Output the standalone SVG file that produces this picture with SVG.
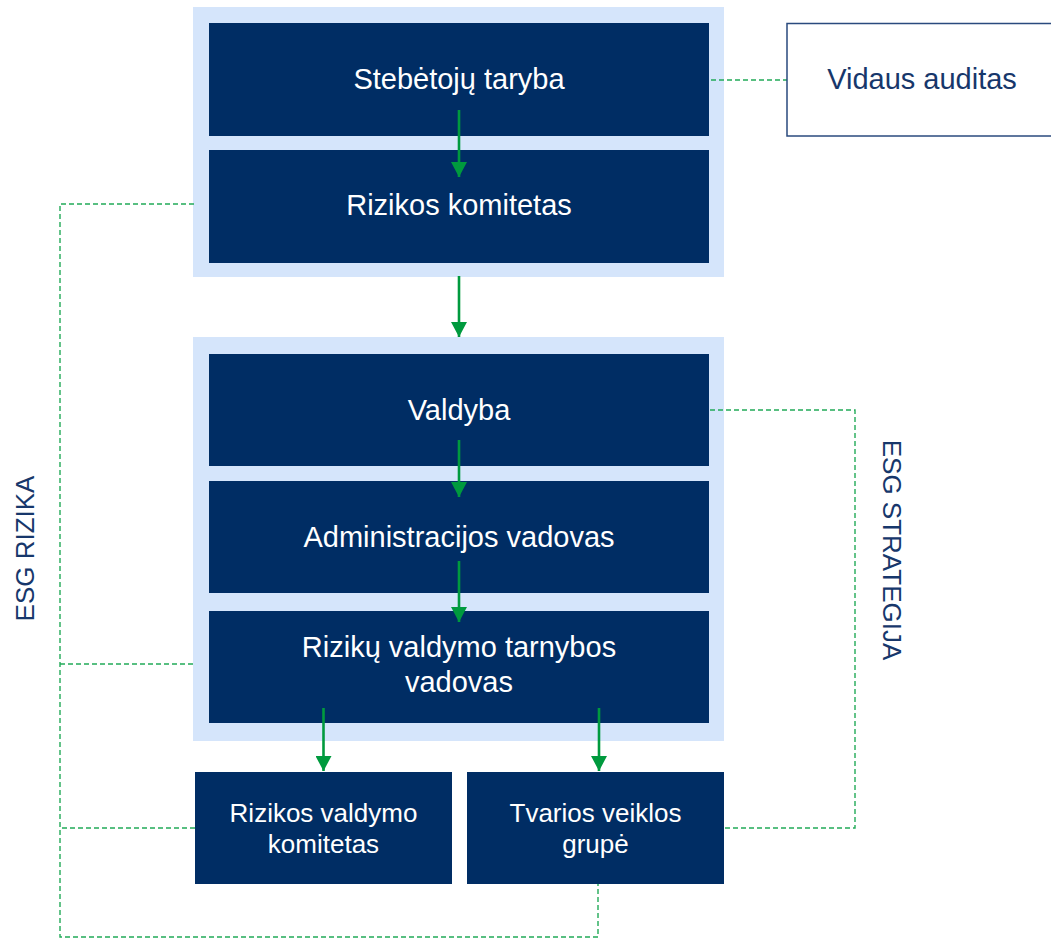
<svg xmlns="http://www.w3.org/2000/svg" width="1051" height="939" viewBox="0 0 1051 939">
<style>
.cont{fill:#D5E5FB}
.box{fill:#002D64}
.wt{font-family:"Liberation Sans",Arial,sans-serif;fill:#FFFFFF;text-anchor:middle}
.bt{font-family:"Liberation Sans",Arial,sans-serif;fill:#17376B;text-anchor:middle}
.f29{font-size:29px}
.f26{font-size:26px}
.dash{fill:none;stroke:#22AA58;stroke-width:1.4;stroke-dasharray:5 3}
.arr{fill:none;stroke:#009A3E;stroke-width:2.6}
</style>
<defs>
<marker id="ah" viewBox="0 0 15 16" refX="15" refY="8" markerWidth="15" markerHeight="16" markerUnits="userSpaceOnUse" orient="auto">
<path d="M0,0 L15,8 L0,16 z" fill="#009A3E"/>
</marker>
</defs>
<rect width="1051" height="939" fill="#FFFFFF"/>
<g id="group-top">
<rect class="cont" x="193" y="7" width="531" height="270"/>
</g>
<g id="group-mgmt">
<rect class="cont" x="193" y="337" width="531" height="404"/>
</g>
<g id="connectors">
<polyline class="dash" points="711,80 787,80"/>
<polyline class="dash" points="194,204 60,204 60,937 598,937 598,884"/>
<polyline class="dash" points="193,664 60,664"/>
<polyline class="dash" points="195,828 60,828"/>
<polyline class="dash" points="710,410 855,410 855,828 724,828"/>
</g>
<g id="stebetoju-taryba">
<rect class="box" x="209" y="23" width="500" height="113"/>
<text class="wt f29" x="459" y="89">Stebėtojų taryba</text>
</g>
<g id="rizikos-komitetas">
<rect class="box" x="209" y="150" width="500" height="113"/>
<text class="wt f29" x="459" y="215">Rizikos komitetas</text>
</g>
<g id="vidaus-auditas">
<rect x="787" y="23.5" width="280" height="112.5" fill="#FFFFFF" stroke="#2A4A7E" stroke-width="1.5"/>
<text class="bt f29" x="922" y="89">Vidaus auditas</text>
</g>
<g id="valdyba">
<rect class="box" x="209" y="354" width="500" height="112"/>
<text class="wt f29" x="459" y="420">Valdyba</text>
</g>
<g id="administracijos-vadovas">
<rect class="box" x="209" y="481" width="500" height="112"/>
<text class="wt f29" x="459" y="547">Administracijos vadovas</text>
</g>
<g id="riziku-valdymo-tarnybos-vadovas">
<rect class="box" x="209" y="611" width="500" height="112"/>
<text class="wt f29" x="459" y="657">Rizikų valdymo tarnybos</text>
<text class="wt f29" x="459" y="692">vadovas</text>
</g>
<g id="rizikos-valdymo-komitetas">
<rect class="box" x="195" y="772" width="257" height="112"/>
<text class="wt f26" x="323.5" y="822">Rizikos valdymo</text>
<text class="wt f26" x="323.5" y="853">komitetas</text>
</g>
<g id="tvarios-veiklos-grupe">
<rect class="box" x="467" y="772" width="257" height="112"/>
<text class="wt f26" x="595.5" y="822">Tvarios veiklos</text>
<text class="wt f26" x="595.5" y="853">grupė</text>
</g>
<g id="label-esg-rizika">
<text class="bt f26" transform="translate(34,548.5) rotate(-90)" x="0" y="0">ESG RIZIKA</text>
</g>
<g id="label-esg-strategija">
<text class="bt f26" transform="translate(883,550) rotate(90)" x="0" y="0">ESG STRATEGIJA</text>
</g>
<g id="arrows">
<line class="arr" x1="459" y1="110" x2="459" y2="177" marker-end="url(#ah)"/>
<line class="arr" x1="459" y1="276" x2="459" y2="337" marker-end="url(#ah)"/>
<line class="arr" x1="459" y1="440" x2="459" y2="497" marker-end="url(#ah)"/>
<line class="arr" x1="459" y1="561" x2="459" y2="622" marker-end="url(#ah)"/>
<line class="arr" x1="323.5" y1="708" x2="323.5" y2="771" marker-end="url(#ah)"/>
<line class="arr" x1="599" y1="708" x2="599" y2="771" marker-end="url(#ah)"/>
</g>
</svg>
